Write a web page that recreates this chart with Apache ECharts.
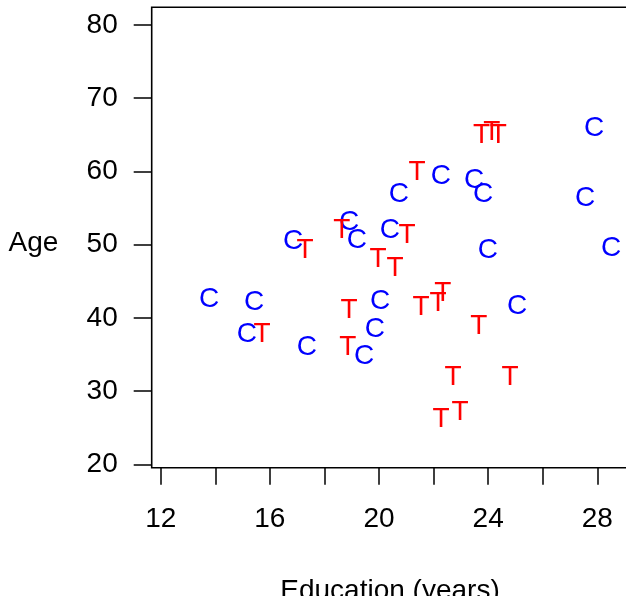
<!DOCTYPE html>
<html>
<head>
<meta charset="utf-8">
<script src="https://cdn.jsdelivr.net/npm/echarts@6/dist/echarts.min.js"></script>
<style>
html,body{margin:0;padding:0;background:#fff;}
#chart{width:626px;height:596px;}
</style>
</head>
<body>
<div id="chart"></div>
<script>
// Data
var eduC = [27.88, 22.27, 23.48, 23.81, 20.73, 27.55, 18.90, 19.19, 20.40, 16.85, 23.99, 28.50, 13.77, 15.42, 20.04, 25.06, 15.16, 17.36, 19.85, 19.45];
var ageC = [65.9, 59.3, 58.8, 56.9, 56.9, 56.4, 53.0, 50.6, 51.9, 50.4, 49.3, 49.5, 42.6, 42.2, 42.3, 41.6, 37.8, 36.0, 38.5, 34.7];
var eduT = [23.76, 24.13, 24.37, 21.39, 18.64, 21.03, 17.29, 19.96, 20.59, 18.90, 21.54, 22.16, 22.34, 23.66, 15.71, 18.86, 22.71, 24.80, 22.27, 22.97];
var ageT = [65.0, 65.3, 65.0, 59.9, 51.9, 51.3, 49.3, 48.0, 46.8, 41.1, 41.5, 42.0, 43.4, 38.9, 37.8, 36.0, 31.9, 31.9, 26.2, 27.1];
var xTicks = [12, 14, 16, 18, 20, 22, 24, 26, 28];
var xLabels = [12, 16, 20, 24, 28];
var yTicks = [20, 30, 40, 50, 60, 70, 80];
var xTitle = 'Education (years)';
var yTitle = 'Age';

var FONT = '"Liberation Sans", Arial, Helvetica, sans-serif';
var FS = 28;
function pairs(xs, ys){ return xs.map(function(x,i){ return [x, ys[i]]; }); }

var chart = echarts.init(document.getElementById('chart'), null, {renderer:'canvas'});
chart.setOption({
  animation: false,
  backgroundColor: '#ffffff',
  grid: {
    show: true, left: 151.7, top: 7.3, width: 478.4, height: 460.4,
    borderColor: '#000', borderWidth: 1.6, backgroundColor: 'transparent',
    containLabel: false, outerBoundsMode: 'none'
  },
  xAxis: {
    type: 'value', min: 11.67, max: 29.2,
    axisLine: {show: false},
    splitLine: {show: false},
    axisTick: {show: true, customValues: xTicks, length: 17, lineStyle: {color: '#000', width: 1.5}},
    axisLabel: {show: true, customValues: xLabels, fontSize: FS, fontFamily: FONT, color: '#000', margin: 38}
  },
  yAxis: {
    type: 'value', min: 19.54, max: 82.42,
    axisLine: {show: false},
    splitLine: {show: false},
    axisTick: {show: true, customValues: yTicks, length: 18, lineStyle: {color: '#000', width: 1.5}},
    axisLabel: {show: true, customValues: yTicks, fontSize: FS, fontFamily: FONT, color: '#000', margin: 34}
  },
  graphic: [
    {type: 'text', x: 8.5, y: 243, style: {text: yTitle, fontSize: FS, fontFamily: FONT, fill: '#000', align: 'left', verticalAlign: 'middle'}},
    {type: 'text', x: 390, y: 591, style: {text: xTitle, fontSize: FS, fontFamily: FONT, fill: '#000', align: 'center', verticalAlign: 'middle'}}
  ],
  series: [
    {
      type: 'scatter', data: pairs(eduC, ageC), symbolSize: 1,
      itemStyle: {color: 'rgba(0,0,0,0)', opacity: 1}, silent: true,
      label: {show: true, position: 'inside', formatter: 'C', color: '#0000FF', fontSize: FS, fontFamily: FONT}
    },
    {
      type: 'scatter', data: pairs(eduT, ageT), symbolSize: 1,
      itemStyle: {color: 'rgba(0,0,0,0)', opacity: 1}, silent: true,
      label: {show: true, position: 'inside', formatter: 'T', color: '#FF0000', fontSize: FS, fontFamily: FONT}
    }
  ]
});
</script>
</body>
</html>
